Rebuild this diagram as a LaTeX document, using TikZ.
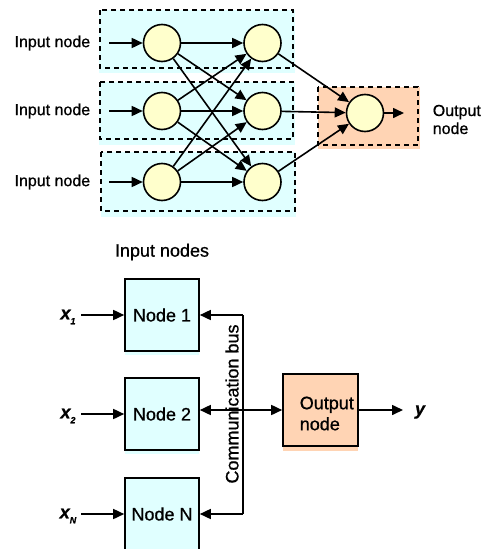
\documentclass[tikz,border=0pt]{standalone}
\usepackage{fontspec}
\setmainfont{Liberation Sans}[FakeBold=0.8]
\usetikzlibrary{positioning, arrows.meta, calc, shadows}
\definecolor{nncyan}{HTML}{E0FFFF}
\definecolor{nnyellow}{HTML}{FFFFCC}
\definecolor{nnpeach}{HTML}{FFD4B4}

\begin{document}
\begin{tikzpicture}[x=1pt, y=-1pt, line width=1.6pt,
    neuron/.style={circle, draw, fill=nnyellow, minimum size=37pt, inner sep=0pt},
    conn/.style={-{Triangle[length=11pt, width=10pt]}},
    group/.style={dash pattern=on 5pt off 4pt, line width=2.4pt},
    lbl/.style={inner sep=0pt, font=\fontsize{16}{18}\selectfont},
    big/.style={inner sep=0pt, font=\fontsize{18}{21}\selectfont},
    xlbl/.style={inner sep=0pt, font=\fontsize{18}{21}\selectfont\bfseries\itshape},
    box/.style={draw, minimum width=74pt, minimum height=72pt, inner sep=0pt,
      font=\fontsize{18}{21}\selectfont}]
  \useasboundingbox (0,0) rectangle (484,549);

  % top: layered network
  \fill[nncyan] (99,10) rectangle (295,73);
  \fill[nncyan] (99,82) rectangle (295,145);
  \fill[nncyan] (101,152) rectangle (296,217);
  \fill[nnpeach] (318,87) rectangle (420,149);
  \draw[group] (100,10) rectangle (293,68);
  \draw[group] (100,82) rectangle (293,139);
  \draw[group] (101,152) rectangle (295,211);
  \draw[group] (318,87) rectangle (418,145);

  \foreach \yy [count=\i] in {43,111,182} {
    \node[neuron] (i\i) at (162,\yy) {};
    \node[neuron] (h\i) at (262.5,\yy) {};
    \node[lbl, anchor=east] (lab\i) at (91,\yy) {Input node};
    \coordinate (s\i) at (109,\yy);
    \draw[conn] (s\i) -- (i\i);
  }
  \node[neuron] (o) at (365,113) {};
  \foreach \a in {1,2,3}
    \foreach \b in {1,2,3}
      \draw[conn] (i\a) -- (h\b);
  \foreach \b in {1,2,3}
    \draw[conn] (h\b) -- (o);
  \coordinate (oe) at (404,113);
  \draw[conn] (o) -- (oe);
  \node[lbl, anchor=west, align=left] (olab) at (432,119.5) {Output\\node};

  % bottom: nodes on a bus
  \node[big] (title) at (162,252) {Input nodes};
  \node[box, fill=nncyan, drop shadow={shadow xshift=0pt, shadow yshift=-4pt, fill=nncyan, opacity=1}] (n1) at (162,315) {Node 1};
  \node[box, fill=nncyan, drop shadow={shadow xshift=0pt, shadow yshift=-4pt, fill=nncyan, opacity=1}] (n2) at (162,414) {Node 2};
  \node[box, fill=nncyan] (nN) at (162,514) {Node N};
  \node[box, minimum width=75pt, fill=nnpeach, drop shadow={shadow xshift=0pt, shadow yshift=-5pt, fill=nnpeach, opacity=1}] (out) at (320.5,410) {};
  \node[big, anchor=west, align=left] (outtxt) at (299,413.5) {Output\\node};

  \node[xlbl] (x1) at (68,317) {x\raisebox{-5pt}{\fontsize{9}{9}\selectfont 1}};
  \node[xlbl] (x2) at (68,416) {x\raisebox{-5pt}{\fontsize{9}{9}\selectfont 2}};
  \node[xlbl] (xN) at (68,516) {x\raisebox{-5pt}{\fontsize{9}{9}\selectfont N}};
  \coordinate (xs1) at (81,315);
  \coordinate (xs2) at (81,414);
  \coordinate (xsN) at (81,514);
  \draw[conn] (xs1) -- (n1.west);
  \draw[conn] (xs2) -- (n2.west);
  \draw[conn] (xsN) -- (nN.west);

  \coordinate (bt) at (243,315);
  \coordinate (bb) at (243,514);
  \draw (bt) -- (bb);
  \draw[conn] (bt) -- (n1.east);
  \draw[conn] (bb) -- (nN.east);
  \draw[{Triangle[length=11pt, width=10pt]}-{Triangle[length=11pt, width=10pt]}]
    (n2.east |- out.west) -- (out.west);
  \node[big, rotate=90] (bus) at (232,404) {Communication bus};

  \coordinate (ye) at (403,410);
  \draw[conn] (out.east) -- (ye);
  \node[xlbl] (y) at (420,412) {y};
\end{tikzpicture}
\end{document}
